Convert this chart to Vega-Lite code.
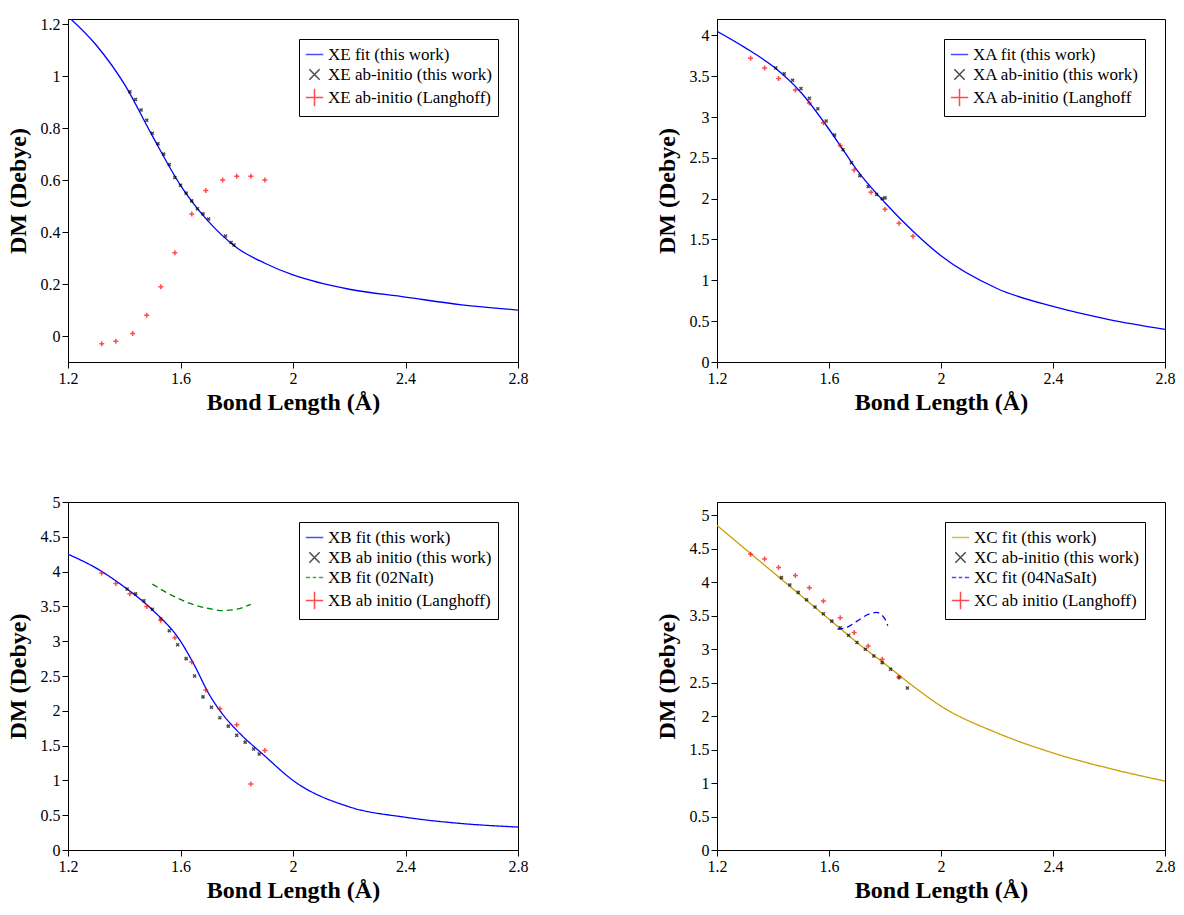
{
"$schema":"https://vega.github.io/schema/vega-lite/v6.json",
"background":"white",
"padding":{"left":5,"top":15,"right":5,"bottom":5},
"datasets":{
"p1":[
{"x":1.2,"y":1.23,"s":"XE fit (this work)"},{"x":1.3,"y":1.12,"s":"XE fit (this work)"},{"x":1.4,"y":0.97,"s":"XE fit (this work)"},{"x":1.5,"y":0.77,"s":"XE fit (this work)"},{"x":1.6,"y":0.58,"s":"XE fit (this work)"},{"x":1.7,"y":0.44,"s":"XE fit (this work)"},{"x":1.8,"y":0.34,"s":"XE fit (this work)"},{"x":1.9,"y":0.28,"s":"XE fit (this work)"},{"x":2.0,"y":0.235,"s":"XE fit (this work)"},{"x":2.2,"y":0.18,"s":"XE fit (this work)"},{"x":2.4,"y":0.15,"s":"XE fit (this work)"},{"x":2.6,"y":0.12,"s":"XE fit (this work)"},{"x":2.8,"y":0.1,"s":"XE fit (this work)"},
{"x":1.42,"y":0.94,"s":"XE ab-initio (this work)"},{"x":1.44,"y":0.91,"s":"XE ab-initio (this work)"},{"x":1.46,"y":0.87,"s":"XE ab-initio (this work)"},{"x":1.48,"y":0.83,"s":"XE ab-initio (this work)"},{"x":1.5,"y":0.78,"s":"XE ab-initio (this work)"},{"x":1.52,"y":0.74,"s":"XE ab-initio (this work)"},{"x":1.54,"y":0.7,"s":"XE ab-initio (this work)"},{"x":1.56,"y":0.66,"s":"XE ab-initio (this work)"},{"x":1.58,"y":0.61,"s":"XE ab-initio (this work)"},{"x":1.6,"y":0.58,"s":"XE ab-initio (this work)"},{"x":1.62,"y":0.55,"s":"XE ab-initio (this work)"},{"x":1.64,"y":0.52,"s":"XE ab-initio (this work)"},{"x":1.66,"y":0.49,"s":"XE ab-initio (this work)"},{"x":1.68,"y":0.47,"s":"XE ab-initio (this work)"},{"x":1.7,"y":0.45,"s":"XE ab-initio (this work)"},{"x":1.76,"y":0.385,"s":"XE ab-initio (this work)"},{"x":1.78,"y":0.36,"s":"XE ab-initio (this work)"},{"x":1.79,"y":0.35,"s":"XE ab-initio (this work)"},
{"x":1.32,"y":-0.03,"s":"XE ab-initio (Langhoff)"},{"x":1.37,"y":-0.02,"s":"XE ab-initio (Langhoff)"},{"x":1.43,"y":0.01,"s":"XE ab-initio (Langhoff)"},{"x":1.48,"y":0.08,"s":"XE ab-initio (Langhoff)"},{"x":1.53,"y":0.19,"s":"XE ab-initio (Langhoff)"},{"x":1.58,"y":0.32,"s":"XE ab-initio (Langhoff)"},{"x":1.64,"y":0.47,"s":"XE ab-initio (Langhoff)"},{"x":1.69,"y":0.56,"s":"XE ab-initio (Langhoff)"},{"x":1.75,"y":0.6,"s":"XE ab-initio (Langhoff)"},{"x":1.8,"y":0.615,"s":"XE ab-initio (Langhoff)"},{"x":1.85,"y":0.615,"s":"XE ab-initio (Langhoff)"},{"x":1.9,"y":0.6,"s":"XE ab-initio (Langhoff)"}
],
"p2":[
{"x":1.2,"y":4.05,"s":"XA fit (this work)"},{"x":1.3,"y":3.85,"s":"XA fit (this work)"},{"x":1.4,"y":3.62,"s":"XA fit (this work)"},{"x":1.5,"y":3.3,"s":"XA fit (this work)"},{"x":1.6,"y":2.85,"s":"XA fit (this work)"},{"x":1.65,"y":2.6,"s":"XA fit (this work)"},{"x":1.7,"y":2.35,"s":"XA fit (this work)"},{"x":1.8,"y":1.95,"s":"XA fit (this work)"},{"x":1.9,"y":1.6,"s":"XA fit (this work)"},{"x":2.0,"y":1.3,"s":"XA fit (this work)"},{"x":2.2,"y":0.9,"s":"XA fit (this work)"},{"x":2.4,"y":0.68,"s":"XA fit (this work)"},{"x":2.6,"y":0.52,"s":"XA fit (this work)"},{"x":2.8,"y":0.4,"s":"XA fit (this work)"},
{"x":1.41,"y":3.6,"s":"XA ab-initio (this work)"},{"x":1.44,"y":3.53,"s":"XA ab-initio (this work)"},{"x":1.47,"y":3.45,"s":"XA ab-initio (this work)"},{"x":1.5,"y":3.35,"s":"XA ab-initio (this work)"},{"x":1.53,"y":3.23,"s":"XA ab-initio (this work)"},{"x":1.56,"y":3.1,"s":"XA ab-initio (this work)"},{"x":1.59,"y":2.95,"s":"XA ab-initio (this work)"},{"x":1.62,"y":2.78,"s":"XA ab-initio (this work)"},{"x":1.65,"y":2.6,"s":"XA ab-initio (this work)"},{"x":1.68,"y":2.44,"s":"XA ab-initio (this work)"},{"x":1.71,"y":2.28,"s":"XA ab-initio (this work)"},{"x":1.74,"y":2.15,"s":"XA ab-initio (this work)"},{"x":1.77,"y":2.05,"s":"XA ab-initio (this work)"},{"x":1.79,"y":2.0,"s":"XA ab-initio (this work)"},{"x":1.8,"y":2.01,"s":"XA ab-initio (this work)"},
{"x":1.32,"y":3.72,"s":"XA ab-initio (Langhoff"},{"x":1.37,"y":3.6,"s":"XA ab-initio (Langhoff"},{"x":1.42,"y":3.47,"s":"XA ab-initio (Langhoff"},{"x":1.48,"y":3.33,"s":"XA ab-initio (Langhoff"},{"x":1.53,"y":3.17,"s":"XA ab-initio (Langhoff"},{"x":1.58,"y":2.93,"s":"XA ab-initio (Langhoff"},{"x":1.64,"y":2.65,"s":"XA ab-initio (Langhoff"},{"x":1.69,"y":2.35,"s":"XA ab-initio (Langhoff"},{"x":1.75,"y":2.08,"s":"XA ab-initio (Langhoff"},{"x":1.8,"y":1.87,"s":"XA ab-initio (Langhoff"},{"x":1.85,"y":1.7,"s":"XA ab-initio (Langhoff"},{"x":1.9,"y":1.54,"s":"XA ab-initio (Langhoff"}
],
"p3":[
{"x":1.2,"y":4.25,"s":"XB fit (this work)"},{"x":1.3,"y":4.05,"s":"XB fit (this work)"},{"x":1.4,"y":3.78,"s":"XB fit (this work)"},{"x":1.5,"y":3.45,"s":"XB fit (this work)"},{"x":1.6,"y":3.0,"s":"XB fit (this work)"},{"x":1.65,"y":2.65,"s":"XB fit (this work)"},{"x":1.7,"y":2.25,"s":"XB fit (this work)"},{"x":1.75,"y":1.95,"s":"XB fit (this work)"},{"x":1.8,"y":1.72,"s":"XB fit (this work)"},{"x":1.9,"y":1.35,"s":"XB fit (this work)"},{"x":2.0,"y":1.0,"s":"XB fit (this work)"},{"x":2.2,"y":0.62,"s":"XB fit (this work)"},{"x":2.4,"y":0.47,"s":"XB fit (this work)"},{"x":2.6,"y":0.38,"s":"XB fit (this work)"},{"x":2.8,"y":0.33,"s":"XB fit (this work)"},
{"x":1.41,"y":3.75,"s":"XB ab initio (this work)"},{"x":1.44,"y":3.68,"s":"XB ab initio (this work)"},{"x":1.47,"y":3.58,"s":"XB ab initio (this work)"},{"x":1.5,"y":3.46,"s":"XB ab initio (this work)"},{"x":1.53,"y":3.32,"s":"XB ab initio (this work)"},{"x":1.56,"y":3.15,"s":"XB ab initio (this work)"},{"x":1.59,"y":2.95,"s":"XB ab initio (this work)"},{"x":1.62,"y":2.75,"s":"XB ab initio (this work)"},{"x":1.65,"y":2.5,"s":"XB ab initio (this work)"},{"x":1.68,"y":2.2,"s":"XB ab initio (this work)"},{"x":1.71,"y":2.05,"s":"XB ab initio (this work)"},{"x":1.74,"y":1.9,"s":"XB ab initio (this work)"},{"x":1.77,"y":1.78,"s":"XB ab initio (this work)"},{"x":1.8,"y":1.65,"s":"XB ab initio (this work)"},{"x":1.83,"y":1.55,"s":"XB ab initio (this work)"},{"x":1.86,"y":1.45,"s":"XB ab initio (this work)"},{"x":1.88,"y":1.38,"s":"XB ab initio (this work)"},
{"x":1.5,"y":3.82,"s":"XB fit (02NaIt)"},{"x":1.55,"y":3.7,"s":"XB fit (02NaIt)"},{"x":1.6,"y":3.6,"s":"XB fit (02NaIt)"},{"x":1.65,"y":3.52,"s":"XB fit (02NaIt)"},{"x":1.7,"y":3.47,"s":"XB fit (02NaIt)"},{"x":1.75,"y":3.44,"s":"XB fit (02NaIt)"},{"x":1.8,"y":3.46,"s":"XB fit (02NaIt)"},{"x":1.85,"y":3.53,"s":"XB fit (02NaIt)"},
{"x":1.32,"y":3.98,"s":"XB ab initio (Langhoff)"},{"x":1.37,"y":3.83,"s":"XB ab initio (Langhoff)"},{"x":1.42,"y":3.68,"s":"XB ab initio (Langhoff)"},{"x":1.48,"y":3.5,"s":"XB ab initio (Langhoff)"},{"x":1.53,"y":3.3,"s":"XB ab initio (Langhoff)"},{"x":1.58,"y":3.05,"s":"XB ab initio (Langhoff)"},{"x":1.64,"y":2.7,"s":"XB ab initio (Langhoff)"},{"x":1.69,"y":2.3,"s":"XB ab initio (Langhoff)"},{"x":1.74,"y":2.03,"s":"XB ab initio (Langhoff)"},{"x":1.8,"y":1.8,"s":"XB ab initio (Langhoff)"},{"x":1.85,"y":0.95,"s":"XB ab initio (Langhoff)"},{"x":1.9,"y":1.43,"s":"XB ab initio (Langhoff)"}
],
"p4":[
{"x":1.2,"y":4.85,"s":"XC fit (this work)"},{"x":1.3,"y":4.5,"s":"XC fit (this work)"},{"x":1.4,"y":4.15,"s":"XC fit (this work)"},{"x":1.5,"y":3.8,"s":"XC fit (this work)"},{"x":1.6,"y":3.45,"s":"XC fit (this work)"},{"x":1.7,"y":3.1,"s":"XC fit (this work)"},{"x":1.8,"y":2.78,"s":"XC fit (this work)"},{"x":1.9,"y":2.45,"s":"XC fit (this work)"},{"x":2.0,"y":2.15,"s":"XC fit (this work)"},{"x":2.2,"y":1.75,"s":"XC fit (this work)"},{"x":2.4,"y":1.45,"s":"XC fit (this work)"},{"x":2.6,"y":1.22,"s":"XC fit (this work)"},{"x":2.8,"y":1.03,"s":"XC fit (this work)"},
{"x":1.43,"y":4.07,"s":"XC ab-initio (this work)"},{"x":1.46,"y":3.96,"s":"XC ab-initio (this work)"},{"x":1.49,"y":3.85,"s":"XC ab-initio (this work)"},{"x":1.52,"y":3.74,"s":"XC ab-initio (this work)"},{"x":1.55,"y":3.63,"s":"XC ab-initio (this work)"},{"x":1.58,"y":3.53,"s":"XC ab-initio (this work)"},{"x":1.61,"y":3.42,"s":"XC ab-initio (this work)"},{"x":1.64,"y":3.32,"s":"XC ab-initio (this work)"},{"x":1.67,"y":3.21,"s":"XC ab-initio (this work)"},{"x":1.7,"y":3.1,"s":"XC ab-initio (this work)"},{"x":1.73,"y":3.0,"s":"XC ab-initio (this work)"},{"x":1.76,"y":2.9,"s":"XC ab-initio (this work)"},{"x":1.79,"y":2.8,"s":"XC ab-initio (this work)"},{"x":1.82,"y":2.7,"s":"XC ab-initio (this work)"},{"x":1.85,"y":2.58,"s":"XC ab-initio (this work)"},{"x":1.88,"y":2.42,"s":"XC ab-initio (this work)"},
{"x":1.63,"y":3.3,"s":"XC fit (04NaSaIt)"},{"x":1.66,"y":3.32,"s":"XC fit (04NaSaIt)"},{"x":1.7,"y":3.42,"s":"XC fit (04NaSaIt)"},{"x":1.74,"y":3.52,"s":"XC fit (04NaSaIt)"},{"x":1.77,"y":3.55,"s":"XC fit (04NaSaIt)"},{"x":1.8,"y":3.45,"s":"XC fit (04NaSaIt)"},{"x":1.81,"y":3.35,"s":"XC fit (04NaSaIt)"},
{"x":1.32,"y":4.42,"s":"XC ab initio (Langhoff)"},{"x":1.37,"y":4.35,"s":"XC ab initio (Langhoff)"},{"x":1.42,"y":4.22,"s":"XC ab initio (Langhoff)"},{"x":1.48,"y":4.1,"s":"XC ab initio (Langhoff)"},{"x":1.53,"y":3.92,"s":"XC ab initio (Langhoff)"},{"x":1.58,"y":3.72,"s":"XC ab initio (Langhoff)"},{"x":1.64,"y":3.47,"s":"XC ab initio (Langhoff)"},{"x":1.69,"y":3.25,"s":"XC ab initio (Langhoff)"},{"x":1.74,"y":3.05,"s":"XC ab initio (Langhoff)"},{"x":1.79,"y":2.85,"s":"XC ab initio (Langhoff)"},{"x":1.85,"y":2.58,"s":"XC ab initio (Langhoff)"}
]
},
"vconcat":[
{"hconcat":[
{"width":450,"height":343,"data":{"name":"p1"},
"encoding":{
"x":{"field":"x","type":"quantitative","scale":{"domain":[1.2,2.8]},"axis":{"values":[1.2,1.6,2,2.4,2.8]},"title":"Bond Length (Å)"},
"y":{"field":"y","type":"quantitative","scale":{"domain":[-0.1,1.22]},"axis":{"values":[0,0.2,0.4,0.6,0.8,1,1.2]},"title":"DM (Debye)"},
"color":{"field":"s","type":"nominal","title":null,"scale":{"domain":["XE fit (this work)","XE ab-initio (this work)","XE ab-initio (Langhoff)"],"range":["#0000ff","#000000","#ff0000"]},"legend":{"orient":"top-right"}}},
"layer":[
{"transform":[{"filter":"indexof(datum.s,'fit')>=0"}],"mark":{"type":"line","strokeWidth":1.3,"clip":true,"interpolate":"monotone"},"encoding":{"order":{"field":"x","type":"quantitative"}}},
{"transform":[{"filter":"indexof(datum.s,'fit')<0"}],"mark":{"type":"point","size":25,"strokeWidth":1.5},"encoding":{"shape":{"field":"s","type":"nominal","title":null,"scale":{"domain":["XE fit (this work)","XE ab-initio (this work)","XE ab-initio (Langhoff)"],"range":["M-1,0H1","M-0.6,-0.6L0.6,0.6M0.6,-0.6L-0.6,0.6","M-1,0H1M0,-1V1"]},"legend":{"orient":"top-right"}}}}
]},
{"width":448,"height":343,"data":{"name":"p2"},
"encoding":{
"x":{"field":"x","type":"quantitative","scale":{"domain":[1.2,2.8]},"axis":{"values":[1.2,1.6,2,2.4,2.8]},"title":"Bond Length (Å)"},
"y":{"field":"y","type":"quantitative","scale":{"domain":[0,4.2]},"axis":{"values":[0,0.5,1,1.5,2,2.5,3,3.5,4]},"title":"DM (Debye)"},
"color":{"field":"s","type":"nominal","title":null,"scale":{"domain":["XA fit (this work)","XA ab-initio (this work)","XA ab-initio (Langhoff"],"range":["#0000ff","#000000","#ff0000"]},"legend":{"orient":"top-right"}}},
"layer":[
{"transform":[{"filter":"indexof(datum.s,'fit')>=0"}],"mark":{"type":"line","strokeWidth":1.3,"clip":true,"interpolate":"monotone"},"encoding":{"order":{"field":"x","type":"quantitative"}}},
{"transform":[{"filter":"indexof(datum.s,'fit')<0"}],"mark":{"type":"point","size":25,"strokeWidth":1.5},"encoding":{"shape":{"field":"s","type":"nominal","title":null,"scale":{"domain":["XA fit (this work)","XA ab-initio (this work)","XA ab-initio (Langhoff"],"range":["M-1,0H1","M-0.6,-0.6L0.6,0.6M0.6,-0.6L-0.6,0.6","M-1,0H1M0,-1V1"]},"legend":{"orient":"top-right"}}}}
]}
],"spacing":125,
"resolve":{"scale":{"color":"independent","shape":"independent","strokeDash":"independent"},"legend":{"color":"independent","shape":"independent"}}},
{"hconcat":[
{"width":450,"height":348,"data":{"name":"p3"},
"encoding":{
"x":{"field":"x","type":"quantitative","scale":{"domain":[1.2,2.8]},"axis":{"values":[1.2,1.6,2,2.4,2.8]},"title":"Bond Length (Å)"},
"y":{"field":"y","type":"quantitative","scale":{"domain":[0,5]},"axis":{"values":[0,0.5,1,1.5,2,2.5,3,3.5,4,4.5,5]},"title":"DM (Debye)"},
"color":{"field":"s","type":"nominal","title":null,"scale":{"domain":["XB fit (this work)","XB ab initio (this work)","XB fit (02NaIt)","XB ab initio (Langhoff)"],"range":["#0000ff","#000000","#008000","#ff0000"]},"legend":{"orient":"top-right"}}},
"layer":[
{"transform":[{"filter":"indexof(datum.s,'fit')>=0"}],"mark":{"type":"line","strokeWidth":1.3,"clip":true,"interpolate":"monotone"},"encoding":{"order":{"field":"x","type":"quantitative"},"strokeDash":{"field":"s","type":"nominal","scale":{"domain":["XB fit (this work)","XB fit (02NaIt)"],"range":[[1,0],[6,4]]},"legend":null}}},
{"transform":[{"filter":"indexof(datum.s,'fit')<0"}],"mark":{"type":"point","size":25,"strokeWidth":1.5},"encoding":{"shape":{"field":"s","type":"nominal","title":null,"scale":{"domain":["XB fit (this work)","XB ab initio (this work)","XB fit (02NaIt)","XB ab initio (Langhoff)"],"range":["M-1,0H1","M-0.6,-0.6L0.6,0.6M0.6,-0.6L-0.6,0.6","M-1,0H-0.5M-0.2,0H0.2M0.5,0H1","M-1,0H1M0,-1V1"]},"legend":{"orient":"top-right"}}}}
]},
{"width":448,"height":348,"data":{"name":"p4"},
"encoding":{
"x":{"field":"x","type":"quantitative","scale":{"domain":[1.2,2.8]},"axis":{"values":[1.2,1.6,2,2.4,2.8]},"title":"Bond Length (Å)"},
"y":{"field":"y","type":"quantitative","scale":{"domain":[0,5.2]},"axis":{"values":[0,0.5,1,1.5,2,2.5,3,3.5,4,4.5,5]},"title":"DM (Debye)"},
"color":{"field":"s","type":"nominal","title":null,"scale":{"domain":["XC fit (this work)","XC ab-initio (this work)","XC fit (04NaSaIt)","XC ab initio (Langhoff)"],"range":["#c8a000","#000000","#0000ff","#ff0000"]},"legend":{"orient":"top-right"}}},
"layer":[
{"transform":[{"filter":"indexof(datum.s,'fit')>=0"}],"mark":{"type":"line","strokeWidth":1.3,"clip":true,"interpolate":"monotone"},"encoding":{"order":{"field":"x","type":"quantitative"},"strokeDash":{"field":"s","type":"nominal","scale":{"domain":["XC fit (this work)","XC fit (04NaSaIt)"],"range":[[1,0],[6,4]]},"legend":null}}},
{"transform":[{"filter":"indexof(datum.s,'fit')<0"}],"mark":{"type":"point","size":25,"strokeWidth":1.5},"encoding":{"shape":{"field":"s","type":"nominal","title":null,"scale":{"domain":["XC fit (this work)","XC ab-initio (this work)","XC fit (04NaSaIt)","XC ab initio (Langhoff)"],"range":["M-1,0H1","M-0.6,-0.6L0.6,0.6M0.6,-0.6L-0.6,0.6","M-1,0H-0.5M-0.2,0H0.2M0.5,0H1","M-1,0H1M0,-1V1"]},"legend":{"orient":"top-right"}}}}
]}
],"spacing":125,
"resolve":{"scale":{"color":"independent","shape":"independent","strokeDash":"independent"},"legend":{"color":"independent","shape":"independent"}}}
],
"spacing":78,
"resolve":{"scale":{"color":"independent","shape":"independent","strokeDash":"independent"},"legend":{"color":"independent","shape":"independent"}},
"config":{
"font":"Liberation Serif",
"view":{"stroke":"black","strokeWidth":1},
"axis":{"grid":false,"format":"~g","domainColor":"black","tickColor":"black","labelFont":"Liberation Serif","labelFontSize":16,"labelColor":"black","titleFont":"Liberation Serif","titleFontSize":24,"titleFontWeight":"bold","titleColor":"black","tickSize":6,"labelPadding":2,"labelFlush":false},
"axisY":{"titlePadding":10},
"legend":{"labelFont":"Liberation Serif","labelFontSize":17,"labelColor":"black","strokeColor":"black","fillColor":"white","padding":6,"rowPadding":2,"symbolSize":300,"symbolStrokeWidth":1.5,"symbolFillColor":"transparent","labelLimit":400,"offset":20}
}
}
